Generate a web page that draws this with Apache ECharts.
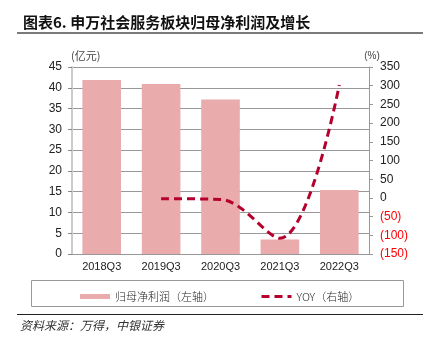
<!DOCTYPE html>
<html><head><meta charset="utf-8">
<script src="https://cdn.jsdelivr.net/npm/echarts@6/dist/echarts.min.js"></script>
<style>html,body{margin:0;padding:0;background:#fff;}#c{width:423px;height:344px;}</style>
</head><body><div id="c"></div>
<script>
const categories = ['2018Q3','2019Q3','2020Q3','2021Q3','2022Q3'];
const profit = [41.9, 40.9, 37.2, 3.5, 15.4];
const yoy = [null, -2, -4, -108, 302];
const leftTicks = {min: 0, max: 45, interval: 5};
const rightTicks = {min: -150, max: 350, interval: 50};

const chart = echarts.init(document.getElementById('c'));
const numFont = '"Liberation Sans", Arial, sans-serif';
const cjk = '"Noto Sans CJK SC", sans-serif';
chart.setOption({
  animation: false,
  title: {
    text: '图表6. 申万社会服务板块归母净利润及增长',
    left: 18, top: 10,
    textStyle: {fontFamily: cjk, fontWeight: 'bold', fontSize: 15, color: '#111'}
  },
  graphic: [
    {type: 'line', shape: {x1: 17, y1: 33, x2: 423, y2: 33}, style: {stroke: '#7a7a7a', lineWidth: 2}},
    {type: 'rect', shape: {x: 31.5, y: 280.5, width: 372, height: 26}, style: {fill: 'none', stroke: '#999', lineWidth: 1}, z: -1},
    {type: 'line', shape: {x1: 17, y1: 314.5, x2: 423, y2: 314.5}, style: {stroke: '#222', lineWidth: 1}},
    {type: 'text', left: 20, top: 319, style: {text: '资料来源：万得，中银证券', font: 'italic 12px "Noto Sans CJK SC", sans-serif', fill: '#333'}}
  ],
  legend: {
    top: 286, left: 75,
    itemGap: 46,
    itemWidth: 30, itemHeight: 5,
    textStyle: {fontFamily: cjk, fontSize: 11, color: '#222', fontWeight: 300},
    data: [
      {name: '归母净利润（左轴）', icon: 'rect'},
      {name: 'YOY（右轴）', itemStyle: {color: 'rgba(0,0,0,0)', borderWidth: 0, opacity: 0},
       lineStyle: {color: '#B5002E', width: 3, type: [8, 5]}}
    ]
  },
  grid: {left: 72, right: 54, top: 67, bottom: 90},
  xAxis: {
    type: 'category', data: categories,
    axisLine: {lineStyle: {color: '#999', width: 1}},
    axisTick: {lineStyle: {color: '#999'}, length: 4},
    axisLabel: {fontFamily: numFont, fontSize: 11, color: '#222', margin: 7}
  },
  yAxis: [
    {
      type: 'value', min: leftTicks.min, max: leftTicks.max, interval: leftTicks.interval,
      name: '(亿元)', nameLocation: 'end', nameGap: 6,
      nameTextStyle: {fontFamily: cjk, fontSize: 11, color: '#444', align: 'left', padding: [0,0,0,-1]},
      axisLine: {show: true, lineStyle: {color: '#ccc', width: 2}},
      axisTick: {show: true, length: 4, lineStyle: {color: '#888'}},
      axisLabel: {fontFamily: numFont, fontSize: 12, color: '#222', margin: 10},
      splitLine: {lineStyle: {color: '#999', width: 1}}
    },
    {
      type: 'value', min: rightTicks.min, max: rightTicks.max, interval: rightTicks.interval,
      name: '(%)', nameLocation: 'end', nameGap: 6,
      nameTextStyle: {fontFamily: numFont, fontSize: 10, color: '#444', align: 'center', padding: [0,0,0,6]},
      axisLine: {show: true, lineStyle: {color: '#999', width: 1}},
      axisTick: {show: true, length: 4, lineStyle: {color: '#999'}},
      axisLabel: {
        fontFamily: numFont, fontSize: 12, margin: 11,
        formatter: v => v < 0 ? '(' + Math.abs(v) + ')' : String(v),
        color: v => (Number(v) < 0 ? '#ff0000' : '#222')
      },
      splitLine: {show: false}
    }
  ],
  series: [
    {
      name: '归母净利润（左轴）', type: 'bar', data: profit, yAxisIndex: 0,
      barWidth: '65%',
      itemStyle: {color: '#E9ABAB'}
    },
    {
      name: 'YOY（右轴）', type: 'line', data: yoy, yAxisIndex: 1,
      smooth: 0.35, symbol: 'none', connectNulls: false,
      itemStyle: {color: '#B5002E'},
      lineStyle: {color: '#B5002E', width: 3, type: [8, 5]}
    }
  ]
});
</script></body></html>
